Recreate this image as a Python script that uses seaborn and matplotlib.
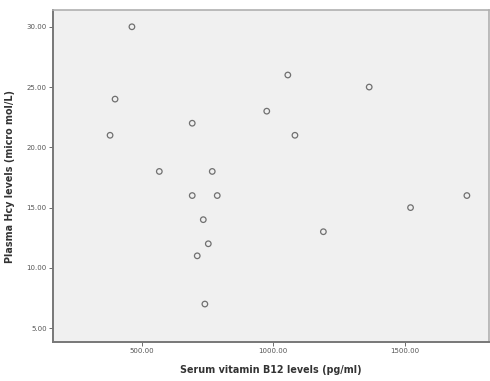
import pandas as pd
import matplotlib
matplotlib.use('Agg')
import matplotlib.pyplot as plt
import seaborn as sns
from matplotlib.ticker import FormatStrFormatter

b12 = [380, 399, 463, 567, 692, 692, 768, 787, 734, 753, 711, 740,
       975, 1055, 1082, 1190, 1364, 1521, 1735]
hcy = [21, 24, 30, 18, 22, 16, 18, 16, 14, 12, 11, 7,
       23, 26, 21, 13, 25, 15, 16]

df = pd.DataFrame({"b12": b12, "hcy": hcy})

sns.set_style("white")
plt.rcParams['font.family'] = ['DejaVu Sans']

fig = plt.figure(figsize=(4.9, 3.81), dpi=100)
ax = fig.add_axes([0.108, 0.102, 0.89, 0.872])
ax.set_facecolor('#f0f0f0')

sns.scatterplot(data=df, x="b12", y="hcy", ax=ax, marker='o', s=16,
                facecolor='none', edgecolor='#707070', linewidth=0.9)

ax.set_xlim(163, 1819)
ax.set_ylim(3.84, 31.4)
ax.set_xticks([500, 1000, 1500])
ax.set_yticks([5, 10, 15, 20, 25, 30])
ax.xaxis.set_major_formatter(FormatStrFormatter('%.2f'))
ax.yaxis.set_major_formatter(FormatStrFormatter('%.2f'))
ax.tick_params(axis='both', labelsize=5, colors='#555555', length=3, width=0.6,
               direction='out', bottom=True, left=True, pad=1.5)

for side in ['left', 'bottom']:
    ax.spines[side].set_color('#777777')
    ax.spines[side].set_linewidth(1.4)
for side in ['top', 'right']:
    ax.spines[side].set_color('#b0b0b0')
    ax.spines[side].set_linewidth(1.2)

ax.set_xlabel("Serum vitamin B12 levels (pg/ml)", fontsize=6.9, fontweight='bold',
              color='#333333', labelpad=8)
ax.set_ylabel("Plasma Hcy levels (micro mol/L)", fontsize=6.9, fontweight='bold',
              color='#333333', labelpad=8)

plt.savefig("out.png", dpi=100)
